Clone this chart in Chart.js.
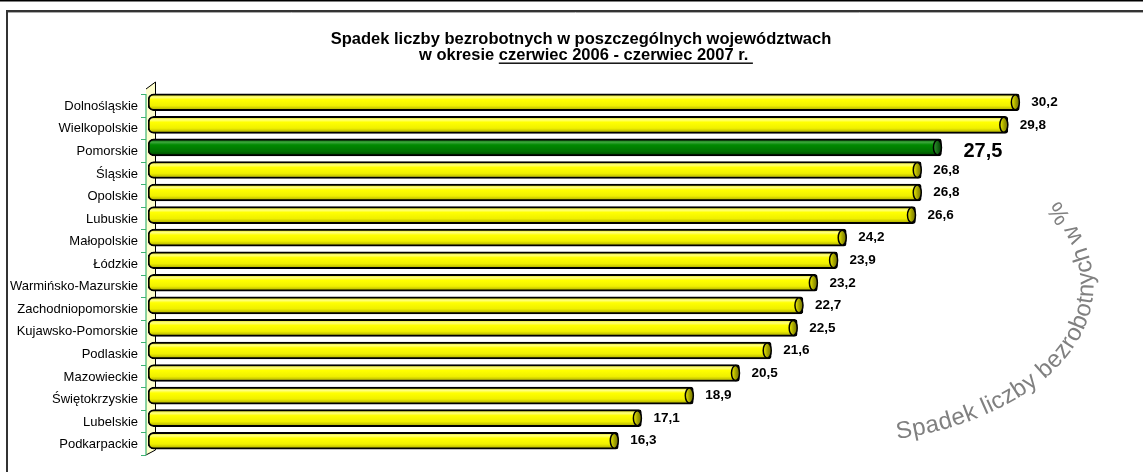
<!DOCTYPE html>
<html><head><meta charset="utf-8">
<script src="https://cdn.jsdelivr.net/npm/chart.js@4.4.1/dist/chart.umd.min.js"></script>
<style>html,body{margin:0;padding:0;background:#fff;overflow:hidden}#wrap{position:relative;width:1143px;height:472px}</style>
</head><body><div id="wrap"><canvas id="c" width="1143" height="472"></canvas></div>
<script>
const categories = ['Dolnośląskie','Wielkopolskie','Pomorskie','Śląskie','Opolskie','Lubuskie','Małopolskie','Łódzkie','Warmińsko-Mazurskie','Zachodniopomorskie','Kujawsko-Pomorskie','Podlaskie','Mazowieckie','Świętokrzyskie','Lubelskie','Podkarpackie'];
const values = [30.2,29.8,27.5,26.8,26.8,26.6,24.2,23.9,23.2,22.7,22.5,21.6,20.5,18.9,17.1,16.3];
const highlighted = 'Pomorskie';
const titleLine1 = 'Spadek liczby bezrobotnych w poszczególnych województwach';
const titleLine2a = 'w okresie ';
const titleLine2b = 'czerwiec 2006 - czerwiec 2007 r. ';
const axisTitle = 'Spadek liczby bezrobotnych w %';

const FONT = '"Liberation Sans", Arial, sans-serif';
const fmt = v => v.toFixed(1).replace('.', ',');

// baseline path for the arched axis title (cubic Bezier)
const ARC = [[897, 439], [1045.5, 418], [1152, 314], [1058, 200]];
function bez(t) {
  const u = 1 - t, [p0, p1, p2, p3] = ARC;
  const a = u*u*u, b = 3*u*u*t, c = 3*u*t*t, d = t*t*t;
  return [a*p0[0]+b*p1[0]+c*p2[0]+d*p3[0], a*p0[1]+b*p1[1]+c*p2[1]+d*p3[1]];
}

const framePlugin = {
  id: 'frame',
  beforeDraw(chart) {
    const c = chart.ctx;
    c.save();
    c.fillStyle = '#fff'; c.fillRect(0, 0, chart.width, chart.height);
    c.fillStyle = '#000'; c.fillRect(0, 0, chart.width, 1.5);
    c.strokeStyle = '#333'; c.lineWidth = 2;
    c.strokeRect(7, 11, chart.width + 20, chart.height + 20);
    c.strokeStyle = '#aaa'; c.lineWidth = 1;
    c.beginPath(); c.moveTo(8, 12.5); c.lineTo(chart.width, 12.5); c.stroke();
    // title
    c.fillStyle = '#000';
    c.font = 'bold 16.5px ' + FONT;
    c.textAlign = 'center'; c.textBaseline = 'alphabetic';
    c.fillText(titleLine1, 581, 44);
    c.textAlign = 'left';
    const x0 = 419;
    const wA = c.measureText(titleLine2a).width;
    const wB = c.measureText(titleLine2b).width;
    c.fillText(titleLine2a, x0, 60);
    c.fillText(titleLine2b, x0 + wA, 60);
    c.fillRect(x0 + wA, 62.5, wB, 1.4);
    c.restore();
  },
  beforeDatasetsDraw(chart) {
    const c = chart.ctx, a = chart.chartArea;
    const band = (a.bottom - a.top) / categories.length;
    const xf = a.left - 2, xb = a.left + 7;
    c.save();
    c.fillStyle = '#ffffcc';
    c.beginPath();
    c.moveTo(xf, a.top - 2); c.lineTo(xb, a.top - 9); c.lineTo(xb, a.bottom - 2); c.lineTo(xf, a.bottom + 3); c.closePath();
    c.fill();
    c.strokeStyle = '#000'; c.lineWidth = 1;
    c.beginPath();
    c.moveTo(xf, a.top - 2); c.lineTo(xb + 0.5, a.top - 9); c.lineTo(xb + 0.5, a.bottom - 2); c.lineTo(xf, a.bottom + 3);
    c.stroke();
    c.strokeStyle = '#3cb371'; c.lineWidth = 1.2;
    c.beginPath();
    c.moveTo(xf, a.top + 3); c.lineTo(xf, a.bottom + 3);
    for (let i = 0; i <= categories.length; i++) {
      const y = Math.round(a.top + 3 + i * band) + 0.5;
      c.moveTo(xf - 5, y); c.lineTo(xf, y);
    }
    c.stroke();
    c.restore();
  },
  afterDatasetsDraw(chart) {
    const c = chart.ctx;
    const meta = chart.getDatasetMeta(0);
    c.save();
    meta.data.forEach((el, i) => {
      const p = el.getProps(['x', 'y', 'height'], true);
      const hl = categories[i] === highlighted;
      const rx = 4, ry = p.height / 2 - 1;
      const cx = p.x - rx;
      const g = c.createLinearGradient(cx - rx, 0, cx + rx, 0);
      if (hl) { g.addColorStop(0, '#2e9a2e'); g.addColorStop(1, '#003800'); }
      else { g.addColorStop(0, '#f0f000'); g.addColorStop(0.5, '#a8a800'); g.addColorStop(1, '#707000'); }
      c.beginPath(); c.ellipse(cx, p.y, rx, ry, 0, 0, Math.PI * 2);
      c.fillStyle = g; c.fill();
      c.strokeStyle = '#000'; c.lineWidth = 1.5; c.stroke();
      c.fillStyle = '#000'; c.textAlign = 'left'; c.textBaseline = 'middle';
      if (hl) { c.font = 'bold 20px ' + FONT; c.fillText(fmt(values[i]), p.x + 22, p.y + 4); }
      else { c.font = 'bold 13.5px ' + FONT; c.fillText(fmt(values[i]), p.x + 12, p.y); }
    });
    c.restore();
  },
  afterDraw(chart) {
    const c = chart.ctx;
    c.save();
    c.font = '24px ' + FONT;
    c.fillStyle = '#808080';
    c.textAlign = 'center'; c.textBaseline = 'alphabetic';
    const N = 600, pts = [], cum = [0];
    for (let i = 0; i <= N; i++) pts.push(bez(i / N));
    for (let i = 1; i <= N; i++) cum.push(cum[i-1] + Math.hypot(pts[i][0]-pts[i-1][0], pts[i][1]-pts[i-1][1]));
    const L = cum[N];
    const at = s => {
      let i = 1; while (i < N && cum[i] < s) i++;
      const f = (s - cum[i-1]) / ((cum[i] - cum[i-1]) || 1);
      const x = pts[i-1][0] + f * (pts[i][0] - pts[i-1][0]);
      const y = pts[i-1][1] + f * (pts[i][1] - pts[i-1][1]);
      return [x, y, Math.atan2(pts[i][1] - pts[i-1][1], pts[i][0] - pts[i-1][0])];
    };
    const chars = Array.from(axisTitle);
    const ws = chars.map(ch => c.measureText(ch).width);
    const total = ws.reduce((s, w) => s + w, 0);
    const k = L / total;
    let s = 0;
    chars.forEach((ch, i) => {
      const [x, y, ang] = at(s + ws[i] * k / 2);
      c.save(); c.translate(x, y); c.rotate(ang);
      c.fillText(ch, 0, 0); c.restore();
      s += ws[i] * k;
    });
    c.restore();
  }
};

new Chart(document.getElementById('c'), {
  type: 'bar',
  data: {
    labels: categories,
    datasets: [{
      data: values,
      barThickness: 17,
      borderWidth: 2,
      borderColor: '#000',
      borderSkipped: false,
      borderRadius: { topLeft: 6, bottomLeft: 6, topRight: 3, bottomRight: 3 },
      backgroundColor: (ctx) => {
        const chart = ctx.chart, i = ctx.dataIndex;
        const hl = categories[i] === highlighted;
        const yS = chart.scales.y;
        if (!yS || !chart.chartArea) return hl ? '#008000' : '#ffff00';
        const yc = yS.getPixelForValue(i);
        const g = chart.ctx.createLinearGradient(0, yc - 8.5, 0, yc + 8.5);
        if (hl) {
          g.addColorStop(0, '#005a00'); g.addColorStop(0.2, '#3aa63a'); g.addColorStop(0.35, '#008a00');
          g.addColorStop(0.75, '#007000'); g.addColorStop(1, '#004000');
        } else {
          g.addColorStop(0, '#d0d000'); g.addColorStop(0.2, '#ffff80'); g.addColorStop(0.35, '#ffff00');
          g.addColorStop(0.7, '#f0f000'); g.addColorStop(1, '#a0a000');
        }
        return g;
      }
    }]
  },
  options: {
    indexAxis: 'y',
    responsive: false,
    animation: false,
    devicePixelRatio: 1,
    layout: { padding: { top: 91, bottom: 20, left: 0, right: 14 } },
    plugins: { legend: { display: false }, tooltip: { enabled: false }, title: { display: false } },
    scales: {
      x: { display: false, min: 0, max: 34 },
      y: {
        grid: { display: false, drawTicks: false },
        border: { display: false },
        ticks: { color: '#000', font: { family: FONT, size: 13 }, padding: 10, labelOffset: 4 },
        afterFit(s) { s.width = 148; }
      }
    }
  },
  plugins: [framePlugin]
});
</script>
</body></html>
